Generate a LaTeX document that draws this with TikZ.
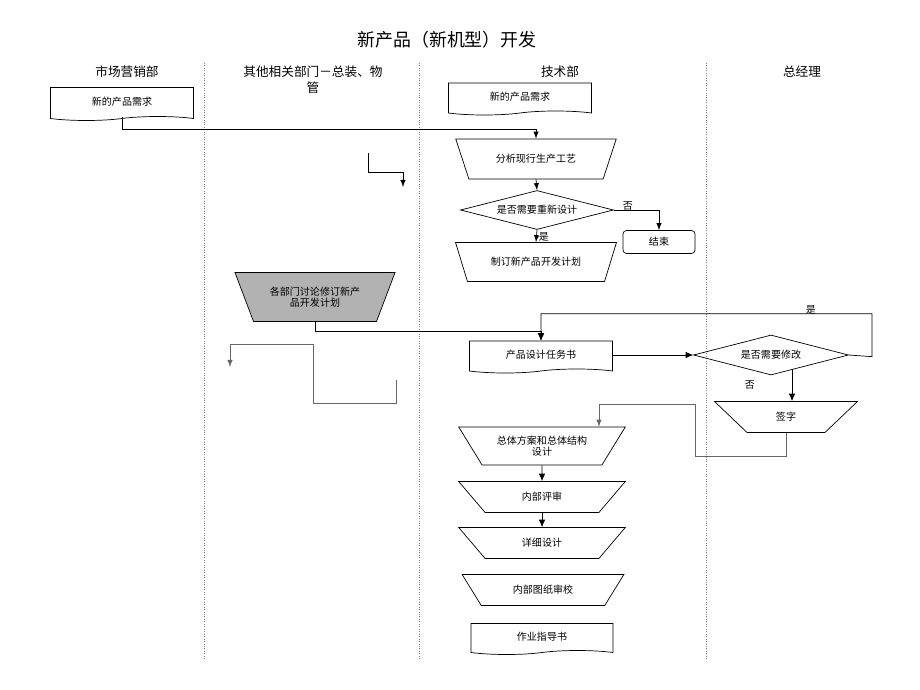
\documentclass[tikz,border=0pt]{standalone}
\usepackage{fontspec}
\setmainfont{Noto Sans CJK SC}
\usetikzlibrary{shapes.geometric,shapes.symbols,arrows.meta}

\begin{document}
\begin{tikzpicture}[x=0.02cm,y=-0.02cm,>=latex,
  every node/.style={font=\fontsize{5.7}{6.6}\selectfont},
  hd/.style={font=\fontsize{7.2}{9}\selectfont,align=center},
  trap/.style={draw,trapezium,shape border rotate=180,trapezium stretches=true,inner sep=0pt,align=center},
  doc/.style={draw,tape,tape bend top=none,tape bend bottom=in and out,tape bend height=0.08cm,inner sep=0pt},
  ask/.style={draw,diamond,inner sep=0pt,aspect=4},
  big/.style={{Latex[length=1.5mm,width=1.3mm]}-},
  lane/.style={densely dotted,gray}]
\useasboundingbox (0,0) rectangle (920,690);

% lanes
\foreach \x in {204,419,706} \draw[lane] (\x,63) -- (\x,660);

% nodes
\node (t) at (447,40) [font=\fontsize{10.2}{12}\selectfont] {新产品（新机型）开发};
\node (h1) at (127,72) [hd] {市场营销部};
\node (h2) at (313,80) [hd] {其他相关部门－总装、物\\管};
\node (h3) at (560,72) [hd] {技术部};
\node (h4) at (802,72) [hd] {总经理};

\node (a) at (122,102) [doc,minimum width=2.86cm,minimum height=0.66cm] {新的产品需求};
\node (b) at (520,97) [doc,minimum width=2.86cm,minimum height=0.64cm] {新的产品需求};
\node (c) at (536,159) [trap,minimum width=3.22cm,minimum height=0.8cm,trapezium angle=50] {分析现行生产工艺};
\node (d) at (537,210) [ask,minimum width=3.06cm,minimum height=0.78cm] {是否需要重新设计};
\node (e) at (536,262) [trap,minimum width=3.22cm,minimum height=0.78cm,trapezium angle=50] {制订新产品开发计划};
\node (f) at (659,242) [draw,rounded corners=2pt,minimum width=1.44cm,minimum height=0.46cm] {结束};
\node (g) at (315,297) [trap,fill=gray!60,minimum width=3.22cm,minimum height=0.98cm,trapezium angle=57] {各部门讨论修订新产\\品开发计划};
\node (h) at (541,355) [doc,minimum width=2.86cm,minimum height=0.64cm] {产品设计任务书};
\node (i) at (771,355) [ask,minimum width=3.1cm,minimum height=0.8cm] {是否需要修改};
\node (j) at (786,417) [trap,minimum width=2.86cm,minimum height=0.62cm,trapezium angle=48] {签字};
\node (k) at (542,446) [trap,minimum width=3.34cm,minimum height=0.76cm,trapezium angle=50] {总体方案和总体结构\\设计};
\node (l) at (542,497) [trap,minimum width=3.34cm,minimum height=0.62cm,trapezium angle=45] {内部评审};
\node (m) at (542,543) [trap,minimum width=3.34cm,minimum height=0.62cm,trapezium angle=45] {详细设计};
\node (n) at (543,590) [trap,minimum width=3.24cm,minimum height=0.62cm,trapezium angle=45] {内部图纸审校};
\node (o) at (542,637) [doc,minimum width=2.84cm,minimum height=0.62cm] {作业指导书};

% labels
\node (y1) at (628,206) {否};
\node (y2) at (544,237) {是};
\node (y3) at (811,310) {是};
\node (y4) at (750,385) {否};

% arrows
\draw[<-] (c.north) -- ++(0,-9) -| (a.south);
\draw[<-] (d.north) -- (c.south);
\draw[<-] (f.north) |- (d.east);
\draw[<-] (e.north) -- (d.south);
\draw[big] (h.north) -- ++(0,-9) -| (g.south);
\draw[big] (h.north) -- ++(0,-27) -| ++(331,43) -- (i.east);
\draw[big] (i.west) -- (h.east);
\coordinate (s) at (792,369);
\draw[big] (s |- j.north) -- (s);
\draw[->,gray!80!black] (j.south) -- ++(0,23) -| ++(-91,-52) -| ([xshift=1.14cm]k.north);
\draw[big] (l.north) -- (k.south);
\draw[big] (m.north) -- (l.south);

% loose ends
\coordinate (p1) at (368,153);
\draw[->] (p1) -- ++(0,19) -- ++(35,0) -- ++(0,15);
\coordinate (p2) at (396,380);
\draw[->,gray!80!black] (p2) -- ++(0,23) -- ++(-83,0) -- ++(0,-59) -- ++(-83,0) -- ++(0,23);
\end{tikzpicture}
\end{document}
